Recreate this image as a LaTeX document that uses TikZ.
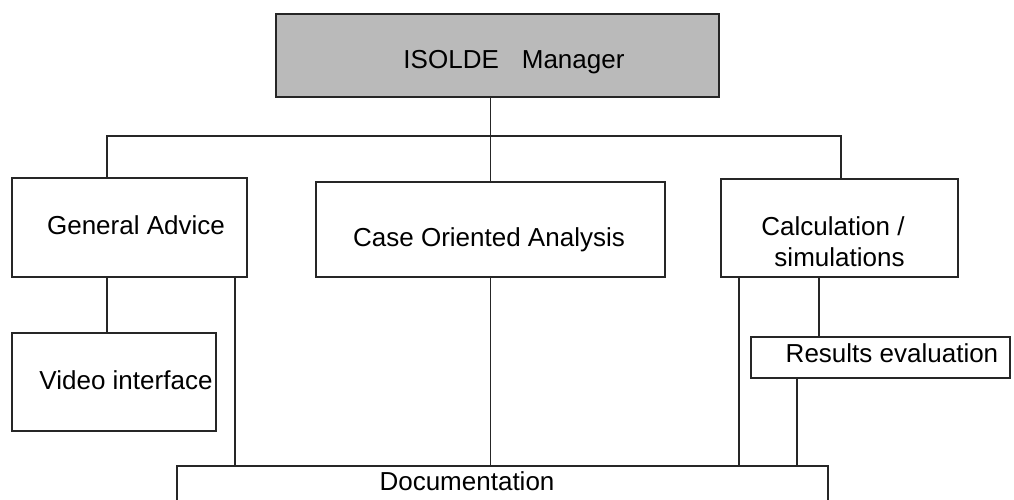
\documentclass[tikz,border=0pt]{standalone}
\usepackage{fontspec}
\setmainfont{Liberation Sans}
\begin{document}
\begin{tikzpicture}[line width=1.1pt, draw=black!85,
    box/.style={draw=black!85, rectangle, inner sep=0pt},
    lbl/.style={text=black, inner sep=0pt, font=\fontsize{14.8}{17.6}\selectfont, align=center}]
\useasboundingbox (0,0) rectangle (20.28,9.98);
\clip (0,0) rectangle (20.28,9.98);
% top box
\node[box, fill=black!27, minimum width=8.86cm, minimum height=1.66cm,
    label={[lbl, xshift=.33cm, yshift=-.13cm]center:ISOLDE\hspace{.46cm}Manager}] (mgr) at (9.95,8.87) {};
% second row
\node[box, minimum width=4.70cm, minimum height=1.98cm,
    label={[lbl, xshift=.13cm, yshift=.05cm]center:General Advice}] (gen) at (2.59,5.43) {};
\node[box, minimum width=6.98cm, minimum height=1.90cm,
    label={[lbl, xshift=-.03cm, yshift=-.21cm]center:Case Oriented Analysis}] (cas) at (9.81,5.39) {};
\node[box, minimum width=4.74cm, minimum height=1.96cm,
    label={[lbl, align=right, xshift=-.13cm, yshift=-.28cm]center:Calculation /\\simulations}] (cal) at (16.79,5.42) {};
% third row
\node[box, minimum width=4.08cm, minimum height=1.96cm,
    label={[lbl, xshift=.24cm, yshift=.04cm]center:Video interface}] (vid) at (2.28,2.34) {};
\node[box, minimum width=5.18cm, minimum height=.82cm,
    label={[lbl, xshift=.23cm, yshift=.09cm]center:Results evaluation}] (res) at (17.61,2.83) {};
% bottom box, runs off the page
\node[box, minimum width=13.02cm, minimum height=1.26cm,
    label={[lbl, xshift=-.71cm, yshift=.33cm]center:Documentation}] (doc) at (10.05,.03) {};
% connectors
\coordinate (busL) at (2.14,7.26);
\coordinate (busR) at (16.82,7.26);
\draw (busL |- gen.north) -- (busL) -- (busR) -- (busR |- cal.north);
\draw (mgr.south -| cas.north) -- (cas.north);
\draw (busL |- gen.south) -- (busL |- vid.north);
\draw ([xshift=-.26cm]gen.south east) -- ([xshift=-.26cm]gen.south east |- doc.north);
\draw (cas.south) -- (cas.south |- doc.north);
\draw ([xshift=.38cm]cal.south west) -- ([xshift=.38cm]cal.south west |- doc.north);
\draw ([xshift=-.41cm]cal.south) -- ([xshift=-.41cm]cal.south |- res.north);
\draw ([xshift=.94cm]res.south west) -- ([xshift=.94cm]res.south west |- doc.north);
\end{tikzpicture}
\end{document}
